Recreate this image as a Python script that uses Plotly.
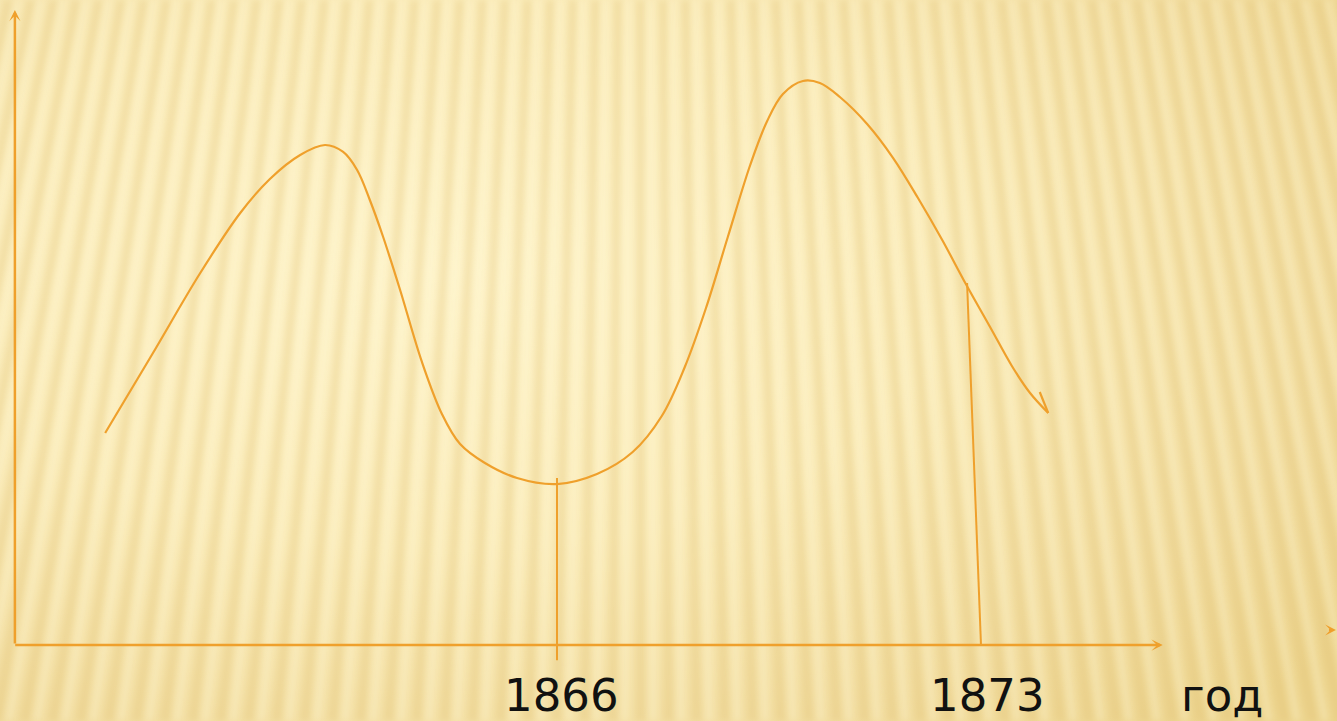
import base64
import plotly.graph_objects as go

# ---- data (x in years, y in arbitrary level units) ----
curve_year = [1858.54, 1859.31, 1860.11, 1860.77, 1861.26, 1861.76, 1862.17, 1862.47,
              1862.70, 1862.91, 1863.13, 1863.41, 1863.77, 1864.10, 1864.40, 1864.81,
              1865.34, 1866.00, 1866.66, 1867.25, 1867.73, 1868.11, 1868.46, 1868.82,
              1869.19, 1869.47, 1869.73, 1870.06, 1870.34, 1870.67, 1871.12, 1871.55,
              1871.96, 1872.36, 1872.75, 1873.15, 1873.51, 1873.81, 1874.11]
curve_level = [33.39, 45.67, 58.58, 68.03, 73.39, 77.17, 78.74, 77.64,
               74.80, 70.08, 64.25, 55.91, 44.57, 36.38, 31.65, 28.66,
               26.30, 25.35, 26.93, 30.39, 36.06, 43.78, 53.07, 64.25,
               75.59, 82.52, 86.77, 88.82, 88.50, 86.30, 82.05, 76.69,
               70.39, 63.78, 56.85, 50.08, 43.94, 39.69, 36.54]
hook_year = [1874.11, 1873.97]
hook_level = [36.54, 39.84]

marker_1866_year = [1866.00, 1866.00]
marker_1866_level = [26.3, -2.4]
marker_1873_year = [1872.77, 1873.00]
marker_1873_level = [57.0, 0.0]

tick_years = [1866.08, 1873.10, 1876.98]
tick_labels = ["1866", "1873", "год"]

axis_origin_year = 1857.05
axis_end_year = 1876.0
axis_top_level = 100.0

ORANGE = "#EFA02C"
W, H = 1337, 721

# ---- decorative striped background (SVG) ----
cx, cy = 640.0, -3000.0


def top_x(x):
    return cx + (x - cx) * (0 - cy) / (H - cy)


dark_paths, light_paths = [], []
xb = -260.0
while xb < W + 260:
    w = 9.0
    pts = [(top_x(xb), 0), (top_x(xb + w), 0), (xb + w, H), (xb, H)]
    dark_paths.append("M" + " L".join(f"{px:.1f},{py:.1f}" for px, py in pts) + " Z")
    lw = 6.0
    lx = xb + 14.0
    pts2 = [(top_x(lx), 0), (top_x(lx + lw), 0), (lx + lw, H), (lx, H)]
    light_paths.append("M" + " L".join(f"{px:.1f},{py:.1f}" for px, py in pts2) + " Z")
    xb += 28.0

dark = "".join(f'<path d="{d}"/>' for d in dark_paths)
light = "".join(f'<path d="{d}"/>' for d in light_paths)
svg = f'''<svg xmlns="http://www.w3.org/2000/svg" width="{W}" height="{H}" viewBox="0 0 {W} {H}">
<defs>
<radialGradient id="g" cx="0.33" cy="0.38" r="0.85">
<stop offset="0" stop-color="#FEF3C9"/>
<stop offset="0.45" stop-color="#FAEBB8"/>
<stop offset="0.8" stop-color="#F2DDA0"/>
<stop offset="1" stop-color="#EDD58F"/>
</radialGradient>
<filter id="b" x="-10%" y="-10%" width="120%" height="120%"><feGaussianBlur stdDeviation="3"/></filter>
</defs>
<rect width="{W}" height="{H}" fill="url(#g)"/>
<g filter="url(#b)" fill="#DDBE6E" fill-opacity="0.30">{dark}</g>
<g filter="url(#b)" fill="#FFF8DC" fill-opacity="0.35">{light}</g>
</svg>'''
bg_src = "data:image/svg+xml;base64," + base64.b64encode(svg.encode()).decode()

fig = go.Figure()

fig.add_trace(go.Scatter(x=curve_year, y=curve_level, mode="lines",
                         line=dict(color=ORANGE, width=2.2, shape="spline", smoothing=1.0),
                         hoverinfo="skip"))
fig.add_trace(go.Scatter(x=hook_year, y=hook_level, mode="lines",
                         line=dict(color=ORANGE, width=2.2), hoverinfo="skip"))
fig.add_trace(go.Scatter(x=marker_1866_year, y=marker_1866_level, mode="lines",
                         line=dict(color=ORANGE, width=2), hoverinfo="skip"))
fig.add_trace(go.Scatter(x=marker_1873_year, y=marker_1873_level, mode="lines",
                         line=dict(color=ORANGE, width=2), hoverinfo="skip"))

annotations = []
# y axis arrow
annotations.append(dict(x=axis_origin_year, y=axis_top_level, ax=axis_origin_year, ay=0,
                        xref="x", yref="y", axref="x", ayref="y", text="", showarrow=True,
                        arrowhead=3, arrowsize=0.75, arrowwidth=2.5, arrowcolor=ORANGE,
                        standoff=0, startstandoff=0))
# x axis arrow
annotations.append(dict(x=axis_end_year, y=0, ax=axis_origin_year - 0.02, ay=0,
                        xref="x", yref="y", axref="x", ayref="y", text="", showarrow=True,
                        arrowhead=3, arrowsize=0.75, arrowwidth=2.5, arrowcolor=ORANGE,
                        standoff=0, startstandoff=0))
# stray small arrowhead at the right edge
annotations.append(dict(x=1878.86, y=2.36, ax=1878.72, ay=2.36,
                        xref="x", yref="y", axref="x", ayref="y", text="", showarrow=True,
                        arrowhead=3, arrowsize=0.9, arrowwidth=2, arrowcolor=ORANGE,
                        standoff=0, startstandoff=0))
for yr, lab in zip(tick_years, tick_labels):
    annotations.append(dict(x=yr, y=-7.9, xref="x", yref="y", text=lab, showarrow=False,
                            xanchor="center", yanchor="middle",
                            font=dict(family="DejaVu Sans, Verdana, sans-serif", size=45,
                                      color="#111111")))

px_per_year = 60.57
level_per_px = 1 / 6.35
x0 = 1866 - 557 / px_per_year
x1 = 1866 + (W - 557) / px_per_year
y_top = 645 * level_per_px
y_bot = -(H - 645) * level_per_px

fig.update_layout(
    width=W, height=H,
    margin=dict(l=0, r=0, t=0, b=0),
    paper_bgcolor="#F8E7B0",
    plot_bgcolor="rgba(0,0,0,0)",
    showlegend=False,
    xaxis=dict(range=[x0, x1], visible=False, fixedrange=True),
    yaxis=dict(range=[y_bot, y_top], visible=False, fixedrange=True),
    annotations=annotations,
    images=[dict(source=bg_src, xref="paper", yref="paper", x=0, y=1, sizex=1, sizey=1,
                 xanchor="left", yanchor="top", sizing="stretch", layer="below")],
)

fig.write_html("out.html", config={"displayModeBar": False},
               post_script="document.body.style.margin='0';document.body.style.overflow='hidden';")
